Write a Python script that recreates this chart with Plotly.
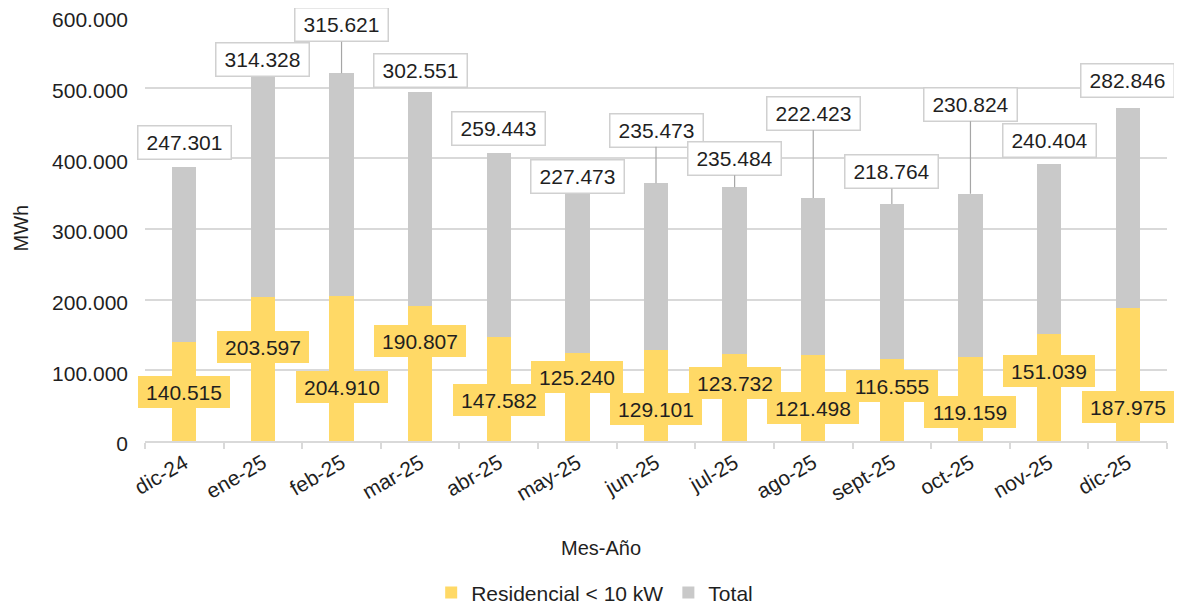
import plotly.graph_objects as go

months = ["dic-24", "ene-25", "feb-25", "mar-25", "abr-25", "may-25", "jun-25",
          "jul-25", "ago-25", "sept-25", "oct-25", "nov-25", "dic-25"]
residencial = [140515, 203597, 204910, 190807, 147582, 125240, 129101,
               123732, 121498, 116555, 119159, 151039, 187975]
total = [247301, 314328, 315621, 302551, 259443, 227473, 235473,
         235484, 222423, 218764, 230824, 240404, 282846]

# label placement (box centre, in MWh)
total_label_y = [423100, 539900, 588700, 523600, 442900, 375000, 440100,
                 399800, 463400, 380700, 476200, 425900, 510800]
total_leader = [False, False, True, False, False, False, True,
                True, True, True, True, False, False]
res_label_y = [70000, 133000, 77100, 142200, 58700, 90600, 45300,
               82100, 46700, 77800, 41000, 99100, 48100]

YELLOW = "#FFD966"
GREY = "#C9C9C9"
TXT = "#1f1f1f"
FONT = "Liberation Sans"
FS = 21


def fmt(v):
    return f"{v:,}".replace(",", ".")


fig = go.Figure()
fig.add_trace(go.Bar(x=months, y=residencial, name="Residencial < 10 kW",
                     marker=dict(color=YELLOW, line=dict(width=0))))
fig.add_trace(go.Bar(x=months, y=total, name="Total",
                     marker=dict(color=GREY, line=dict(width=0))))

box = dict(width=82, height=22, borderpad=5)
annotations = []
for m, r, t, ty, lead, ry in zip(months, residencial, total, total_label_y,
                                 total_leader, res_label_y):
    top = r + t
    if lead:
        annotations.append(dict(
            x=m, y=top, xref="x", yref="y", ax=0, ay=ty, axref="pixel", ayref="y",
            showarrow=True, arrowhead=0, arrowwidth=1.2, arrowcolor="#a6a6a6",
            text=fmt(t), font=dict(family=FONT, size=FS, color=TXT),
            bgcolor="white", bordercolor="#d0d0d0", borderwidth=1.5,
            standoff=0, startstandoff=0, **box))
    else:
        annotations.append(dict(
            x=m, y=ty, xref="x", yref="y", showarrow=False,
            text=fmt(t), font=dict(family=FONT, size=FS, color=TXT),
            bgcolor="white", bordercolor="#d0d0d0", borderwidth=1.5, **box))
    annotations.append(dict(
        x=m, y=ry, xref="x", yref="y", showarrow=False,
        text=fmt(r), font=dict(family=FONT, size=FS, color=TXT),
        bgcolor=YELLOW, borderwidth=0, **box))

# axis titles
annotations.append(dict(x=0.446, y=-0.252, xref="paper", yref="paper",
                        xanchor="center", yanchor="middle",
                        showarrow=False, text="Mes-Año",
                        font=dict(family=FONT, size=20, color=TXT)))
annotations.append(dict(x=-0.121, y=0.502, xref="paper", yref="paper",
                        xanchor="center", yanchor="middle",
                        showarrow=False, text="MWh", textangle=-90,
                        font=dict(family=FONT, size=20, color=TXT)))

fig.update_layout(
    barmode="stack",
    bargap=0.69,
    width=1166, height=599,
    margin=dict(l=137, r=7, t=9, b=166, autoexpand=False),
    paper_bgcolor="white", plot_bgcolor="white",
    separators=",.",
    font=dict(family=FONT, size=FS, color=TXT),
    showlegend=True,
    legend=dict(orientation="h", x=0.44, xanchor="center", y=-0.358, yanchor="middle",
                font=dict(family=FONT, size=21, color=TXT),
                traceorder="normal", itemwidth=30),
    annotations=annotations,
)
fig.update_yaxes(range=[0, 600000], dtick=100000, tickformat=",d",
                 showgrid=True, gridcolor="#d9d9d9", gridwidth=1.5,
                 zeroline=False, showline=False, ticks="", automargin=False,
                 ticklabeloverflow="allow", ticklabelstandoff=16, ticklabelshift=3,
                 tickfont=dict(family=FONT, size=FS, color=TXT))
fig.update_xaxes(range=[-0.5, len(months) - 0.5],
                 showline=True, linecolor="#d9d9d9", linewidth=1.5,
                 ticks="outside", tickson="boundaries", ticklen=6,
                 tickcolor="#d9d9d9", tickwidth=1.5, tickangle=-30, automargin=False,
                 ticklabeloverflow="allow",
                 tickfont=dict(family=FONT, size=FS, color=TXT))

fig.write_html("out.html")
